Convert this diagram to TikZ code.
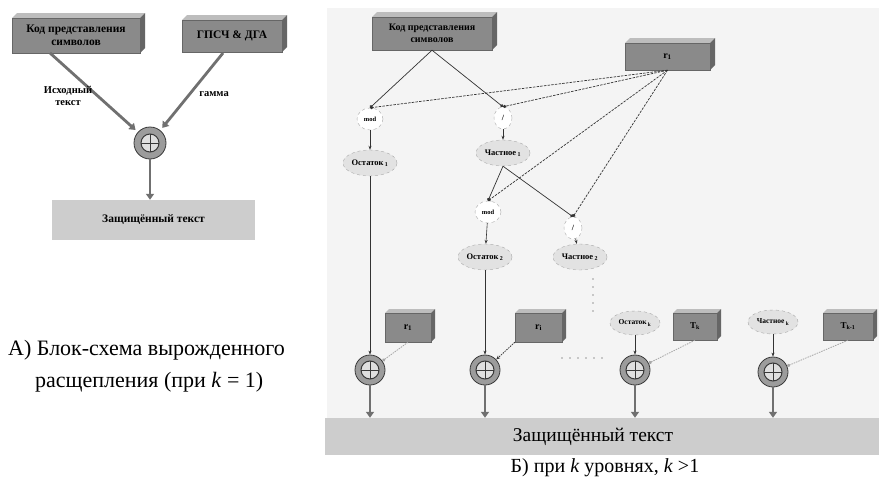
\documentclass[tikz,border=0pt]{standalone}
\usepackage{fontspec}
\setmainfont{Liberation Serif}
\usetikzlibrary{arrows.meta,shapes.geometric,calc,fit}
\definecolor{boxface}{HTML}{8A8A8A}
\definecolor{boxtop}{HTML}{BDBDBD}
\definecolor{boxside}{HTML}{666666}
\definecolor{barfill}{HTML}{CDCDCD}
\definecolor{panelbg}{HTML}{F4F4F4}
\definecolor{ellfill}{HTML}{E2E2E2}
\definecolor{ringfill}{HTML}{9C9C9C}
\definecolor{linecol}{HTML}{333333}
\definecolor{fatcol}{HTML}{707070}
\newcommand{\cubox}[8]{%
  \fill[boxtop] (#2,#3) -- ++(#6,-#6) -- (#4+#6,#3-#6) -- (#4,#3) -- cycle;
  \fill[boxside] (#4,#3) -- (#4+#6,#3-#6) -- (#4+#6,#5-#6) -- (#4,#5) -- cycle;
  \node[fit={(#2,#3) (#4,#5)}, inner sep=0pt, fill=boxface, draw=boxside] (#1) {};
  \node[align=center, font=#8, text=black, inner sep=0pt] (#1-t) at (#1.center) {#7};
}
\tikzset{
  xorbase/.style={circle, inner sep=0pt, fill=ringfill, draw=gray!45!black, line width=0.8pt,
    path picture={
      \fill[gray!25] (path picture bounding box.center) circle[radius=9pt];
      \draw[line width=1pt] (path picture bounding box.center) circle[radius=9pt];
      \draw[line width=1pt] ($(path picture bounding box.center)+(-9pt,0pt)$) -- ++(18pt,0pt);
      \draw[line width=1pt] ($(path picture bounding box.center)+(0pt,-9pt)$) -- ++(0pt,18pt);
    }},
  xorbig/.style={xorbase, minimum size=32pt},
  xorsm/.style={xorbase, minimum size=30pt},
  barbox/.style={rectangle, fill=barfill, inner sep=0pt},
  lbl/.style={align=center, font=\fontsize{10.5}{12}\selectfont\bfseries},
  opnode/.style={ellipse, draw=gray!70, dashed, fill=white, minimum width=26pt, minimum height=22pt, inner sep=0pt, font=\fontsize{6.5}{7}\selectfont\bfseries},
  divnode/.style={opnode, minimum width=18pt, font=\fontsize{8}{9}\selectfont\bfseries},
  ellnode/.style={ellipse, draw=gray!70, dashed, fill=ellfill, minimum width=54pt, minimum height=26pt, inner sep=0pt, font=\fontsize{8.5}{9}\selectfont\bfseries},
  ellsmall/.style={ellnode, minimum width=50pt, minimum height=24pt, font=\fontsize{7.5}{8}\selectfont\bfseries},
  fatarrow/.style={draw=fatcol, line width=2.8pt, -{Triangle[length=6pt,width=8pt]}},
  solidc/.style={draw=linecol, line width=0.7pt, -{Circle[length=3.2pt]}},
  dashc/.style={draw=linecol, line width=0.7pt, dash pattern=on 2.5pt off 1.2pt, -{Circle[length=3.2pt]}},
  smallarrow/.style={draw=linecol, line width=0.6pt, -{Stealth[length=4pt,width=3pt]}},
  sidec/.style={draw=gray!70, line width=0.8pt, dash pattern=on 1.5pt off 1pt, -{Circle[length=3.2pt]}},
  sidearrow/.style={draw=gray!45!black, line width=0.8pt, dash pattern=on 1.5pt off 1pt, -{Stealth[length=4pt,width=3.5pt]}},
  dotline/.style={draw=linecol, line width=1.3pt, line cap=round, dash pattern=on 0pt off 8pt},
}
\begin{document}
\begin{tikzpicture}[x=1pt,y=-1pt]
\useasboundingbox (0,0) rectangle (879,482);
\fill[white] (0,0) rectangle (879,482);

% ---------------- Left panel ----------------
\cubox{kodA}{12}{18}{140}{53}{5}{Код представления\\символов}{\fontsize{11.5}{13}\selectfont\bfseries}
\cubox{gen}{182}{20}{282}{52}{5}{ГПСЧ \& ДГА}{\fontsize{11.5}{13}\selectfont\bfseries}
\node[xorbig] (xA) at (150,143) {};
\node[barbox, minimum width=203pt, minimum height=40pt, font=\fontsize{11.5}{13}\selectfont\bfseries] (barA) at (153.5,220) {Защищённый текст};
\coordinate (kA) at (50,53);
\coordinate (gA) at (223,53);
\draw[fatarrow, shorten >=3pt] (kA) -- (xA);
\draw[fatarrow, shorten >=3pt] (gA) -- (xA);
\draw[fatarrow] (xA.south) -- (xA.south |- barA.north);
\node[lbl] (lblA) at (68,96) {Исходный\\текст};
\node[lbl] (lblB) at (214,94) {гамма};
\node[anchor=west, font=\fontsize{22}{24}\selectfont, inner sep=0pt] (capA1) at (8,350) {А) Блок-схема вырожденного};
\node[anchor=west, font=\fontsize{22}{24}\selectfont, inner sep=0pt] (capA2) at (35,382) {расщепления (при \textit{k} = 1)};

% ---------------- Right panel ----------------
\fill[panelbg] (327,8) rectangle (879,455);
\cubox{kodB}{372}{17}{492}{50}{5}{Код представления\\символов}{\fontsize{10}{11.5}\selectfont\bfseries}
\cubox{rtop}{625}{43}{710}{70}{5}{r\textsubscript{1}}{\fontsize{10}{11}\selectfont\bfseries}

\node[opnode] (mod1) at (370,119) {mod};
\node[divnode] (div1) at (503,118) {/};
\node[ellnode] (ost1) at (370,163) {Остаток\,\textsubscript{1}};
\node[ellnode] (ch1) at (503,153) {Частное\,\textsubscript{1}};
\node[opnode] (mod2) at (488,212) {mod};
\node[divnode] (div2) at (573,228) {/};
\node[ellnode] (ost2) at (485,257) {Остаток\,\textsubscript{2}};
\node[ellnode] (ch2) at (580,257) {Частное\,\textsubscript{2}};
\node[ellsmall] (ostk) at (635,323) {Остаток\,\textsubscript{k}};
\node[ellsmall] (chk) at (773,322) {Частное\,\textsubscript{k}};

\node[xorsm] (xor1) at (370,370) {};
\node[xorsm] (xor2) at (485,370) {};
\node[xorsm] (xor3) at (635,370) {};
\node[xorsm] (xor4) at (773,372) {};

\cubox{rb1}{385}{313}{431}{342}{4}{r\textsubscript{1}}{\fontsize{10}{11}\selectfont\bfseries}
\cubox{rbi}{515}{313}{562}{342}{4}{r\textsubscript{i}}{\fontsize{10}{11}\selectfont\bfseries}
\cubox{rbk}{673}{313}{717}{340}{4}{T\textsubscript{k}}{\fontsize{9}{10}\selectfont\bfseries}
\cubox{rbka}{823}{313}{873}{340}{4}{T\textsubscript{k-1}}{\fontsize{9}{10}\selectfont\bfseries}

\node[barbox, minimum width=554pt, minimum height=37pt, font=\fontsize{19.5}{20}\selectfont] (barB) at (602,436.5) {\hspace*{-18pt}Защищённый текст};
\node[font=\fontsize{20}{22}\selectfont, inner sep=0pt] (capB) at (605,468) {Б) при \textit{k} уровнях, \textit{k} >1};

% connectors
\draw[solidc] (kodB.south) -- (mod1.north);
\draw[solidc] (kodB.south) -- (div1.north);
\draw[dashc] (rtop.south) -- (mod1.north);
\draw[dashc] (rtop.south) -- (div1.north);
\draw[dashc] (rtop.south) -- (mod2.north);
\draw[dashc] (rtop.south) -- (div2.north);
\draw[solidc] (ch1.south) -- (mod2.north);
\draw[solidc] (ch1.south) -- (div2.north);
\draw[smallarrow] (mod1) -- (ost1);
\draw[smallarrow] (div1) -- (ch1);
\draw[smallarrow] (mod2) -- (ost2);
\draw[smallarrow] (div2) -- (ch2);
\draw[smallarrow] (ost1) -- (xor1);
\draw[smallarrow] (ost2) -- (xor2);
\draw[smallarrow] (ostk) -- (xor3);
\draw[smallarrow] (chk) -- (xor4);
\draw[sidec] (rb1.south) -- (xor1);
\draw[sidearrow] (rbi.south west) -- (xor2);
\draw[sidec] (rbk.south) -- (xor3);
\draw[sidec] (rbka.south) -- (xor4);
\coordinate (vd1) at (593,279);
\coordinate (vd2) at (593,312);
\coordinate (hd1) at (562,358);
\coordinate (hd2) at (608,358);
\draw[dotline] (vd1) -- (vd2);
\draw[dotline] (hd1) -- (hd2);
\draw[fatarrow] (xor1.south) -- (xor1.south |- barB.north);
\draw[fatarrow] (xor2.south) -- (xor2.south |- barB.north);
\draw[fatarrow] (xor3.south) -- (xor3.south |- barB.north);
\draw[fatarrow] (xor4.south) -- (xor4.south |- barB.north);
\end{tikzpicture}
\end{document}
